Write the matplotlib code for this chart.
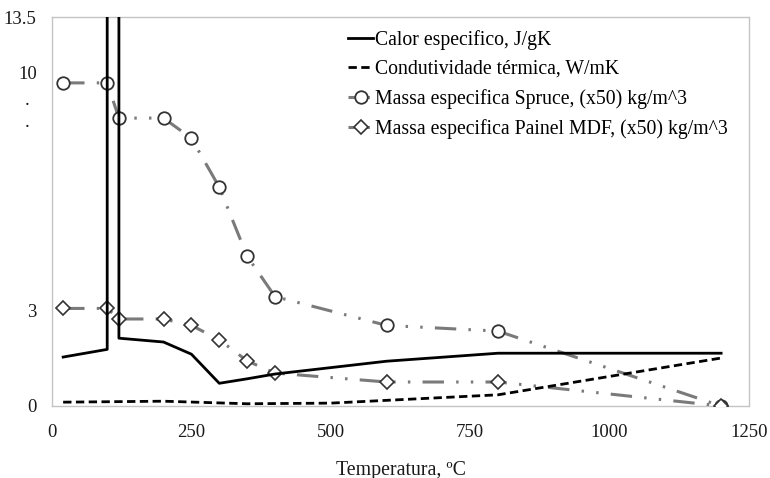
import numpy as np
import matplotlib
matplotlib.use("Agg")
import matplotlib.pyplot as plt

plt.rcParams['font.family'] = ['Liberation Serif', 'DejaVu Serif']

# Eurocode-type properties of wood vs temperature
t_cp = [20, 99, 99, 120, 120, 200, 250, 300, 350, 400, 600, 800, 1200]
cp = [1.53, 1.77, 13.6, 13.5, 2.12, 2.00, 1.62, 0.71, 0.85, 1.00, 1.40, 1.65, 1.65]

t_k = [20, 200, 350, 500, 800, 1200]
cond = [0.12, 0.15, 0.07, 0.09, 0.35, 1.50]

t_rho = [20, 99, 120, 200, 250, 300, 350, 400, 600, 800, 1200]
rho_spruce = [10.1, 10.1, 9.0, 9.0, 8.37, 6.84, 4.68, 3.42, 2.52, 2.34, 0.0]
rho_mdf = [3.05, 3.05, 2.72, 2.72, 2.52, 2.07, 1.41, 1.03, 0.75, 0.75, 0.0]

labels = ["Calor especifico, J/gK",
          "Condutividade térmica, W/mK",
          "Massa especifica Spruce, (x50) kg/m^3",
          "Massa especifica Painel MDF, (x50) kg/m^3"]

# y tick labels as printed on the figure (positions as they sit on the scan)
ytick_pos = [0, 3, 10.44, 12.16]
ytick_lab = ["0", "3", "10", "13.5"]

fig = plt.figure(figsize=(7.7, 4.78), dpi=100)
ax = fig.add_axes([52/770, 1-406/478, 697/770, 389/478])

grey = "#7a7a7a"
ax.plot(t_cp, cp, color="black", lw=2, label=labels[0], zorder=4)
ax.plot(t_k, cond, color="black", lw=2, ls=(0, (3, 1.6)), label=labels[1], zorder=4)
ax.plot(t_rho, rho_spruce, color=grey, lw=2.2, ls=(0, (7, 4, 0.8, 4, 0.8, 4)),
        marker="o", ms=9, mfc="white", mec="#333333", mew=1.3,
        label=labels[2], zorder=3)
ax.plot(t_rho, rho_mdf, color=grey, lw=2.2, ls=(0, (7, 4, 0.8, 4, 0.8, 4)),
        marker="D", ms=7.5, mfc="white", mec="#333333", mew=1.2,
        label=labels[3], zorder=3)

ax.set_xlim(0, 1250)
ax.set_ylim(0, 12.16)
ax.set_xticks([0, 250, 500, 750, 1000, 1250])
ax.set_yticks(ytick_pos)
ax.set_yticklabels(ytick_lab)
ax.set_yticks([8.94, 9.62], minor=True)
ax.set_yticklabels([".", "."], minor=True)
ax.tick_params(axis="both", which="both", length=0, labelsize=13.5, colors="#1a1a1a")
ax.tick_params(axis="y", which="major", pad=11)
ax.tick_params(axis="y", which="minor", pad=16)
ax.tick_params(axis="x", pad=13)

for s in ax.spines.values():
    s.set_color("#c4c4c4")
    s.set_linestyle((0, (1, 1)))
    s.set_linewidth(1)

ax.set_xlabel("Temperatura, ºC", fontsize=14.3, labelpad=14, color="#1a1a1a")

ax.legend(loc="upper left", bbox_to_anchor=(0.425, 0.966), frameon=False,
          fontsize=14.2, handlelength=1.25, handletextpad=0.1, borderpad=0,
          labelspacing=0.5, borderaxespad=0)

fig.savefig("out.png", dpi=100)
